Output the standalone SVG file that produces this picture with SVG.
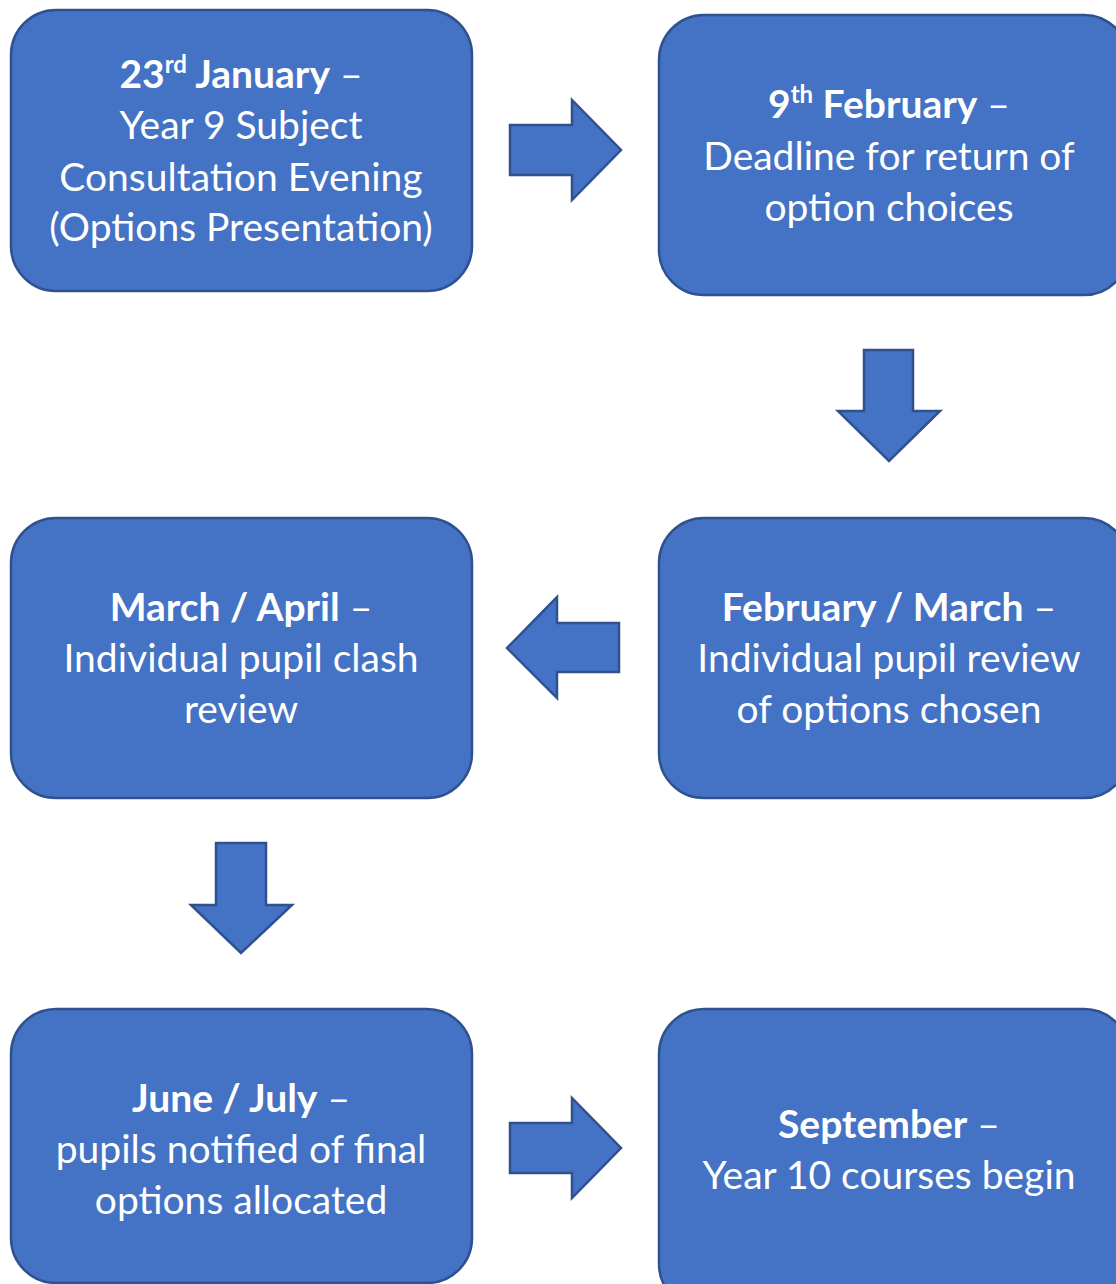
<svg xmlns="http://www.w3.org/2000/svg" width="1116" height="1284" viewBox="0 0 1116 1284">
<style>
.box{fill:#4472C4;stroke:#2F528F;stroke-width:2.5}
.arr{fill:#4472C4;stroke:#2F528F;stroke-width:2.5;stroke-linejoin:miter}
text{font-family:Lato,"Open Sans","Liberation Sans",sans-serif;font-size:39px;fill:#FFFFFF;text-anchor:middle}
.b{font-weight:bold}
.sup{font-size:24px;font-weight:bold}
</style>
<rect width="1116" height="1284" fill="#FFFFFF"/>
<g id="connectors">
<polygon class="arr" points="510,125 572,125 572,100 621,150 572,200 572,175 510,175"/>
<polygon class="arr" points="864,350 913,350 913,411 940,411 889,461 838,411 864,411"/>
<polygon class="arr" points="619,623 557,623 557,597 507,648 557,698 557,672 619,672"/>
<polygon class="arr" points="216,843 266,843 266,905 292,905 241,953 191,905 216,905"/>
<polygon class="arr" points="510,1123 572,1123 572,1098 621,1148 572,1198 572,1173 510,1173"/>
</g>
<g id="node1">
<rect class="box" x="11" y="10" width="461" height="281" rx="45" ry="45"/>
<text x="241" y="88"><tspan class="b">23</tspan><tspan class="sup" dy="-15">rd</tspan><tspan class="b" dy="15"> January</tspan> –</text>
<text x="241" y="139">Year 9 Subject</text>
<text x="241" y="191">Consultation Evening</text>
<text x="241" y="241">(Options Presentation)</text>
</g>
<g id="node2">
<rect class="box" x="659" y="15" width="470" height="280" rx="45" ry="45"/>
<text x="889" y="118"><tspan class="b">9</tspan><tspan class="sup" dy="-15">th</tspan><tspan class="b" dy="15"> February</tspan> –</text>
<text x="889" y="170">Deadline for return of</text>
<text x="889" y="221">option choices</text>
</g>
<g id="node3">
<rect class="box" x="659" y="518" width="470" height="280" rx="45" ry="45"/>
<text x="889" y="621"><tspan class="b">February / March</tspan> –</text>
<text x="889" y="672">Individual pupil review</text>
<text x="889" y="723">of options chosen</text>
</g>
<g id="node4">
<rect class="box" x="11" y="518" width="461" height="280" rx="45" ry="45"/>
<text x="241" y="621"><tspan class="b">March / April</tspan> –</text>
<text x="241" y="672">Individual pupil clash</text>
<text x="241" y="723">review</text>
</g>
<g id="node5">
<rect class="box" x="11" y="1009" width="461" height="274" rx="45" ry="45"/>
<text x="241" y="1112"><tspan class="b">June / July</tspan> –</text>
<text x="241" y="1163">pupils notified of final</text>
<text x="241" y="1214">options allocated</text>
</g>
<g id="node6">
<rect class="box" x="659" y="1009" width="470" height="300" rx="45" ry="45"/>
<text x="889" y="1138"><tspan class="b">September</tspan> –</text>
<text x="889" y="1189">Year 10 courses begin</text>
</g>
</svg>
